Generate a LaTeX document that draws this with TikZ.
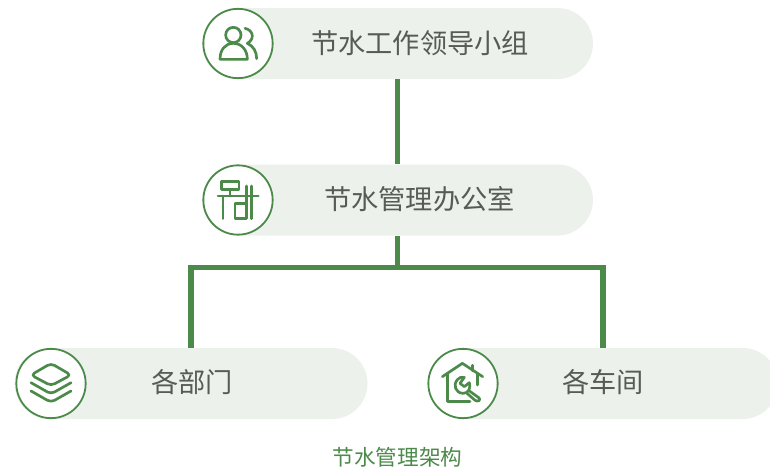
\documentclass[tikz,border=0pt]{standalone}
\usepackage{fontspec}
\setmainfont{Noto Sans CJK SC}
\definecolor{gr}{HTML}{4C8A4A}
\definecolor{pillc}{HTML}{EDF1EC}
\definecolor{txt}{HTML}{565B56}
\tikzset{
  pillbox/.style={fill=pillc,rounded corners=26.6pt,minimum height=53.25pt,inner sep=0pt},
  badge/.style={circle,draw=gr,line width=1.35pt,fill=white,minimum size=52pt,inner sep=0pt},
  nametext/.style={text=txt,font=\fontsize{20.4pt}{22pt}\selectfont,inner sep=0pt},
  captext/.style={text=gr,font=\fontsize{16.2pt}{18pt}\selectfont,inner sep=0pt},
  linkline/.style={draw=gr,line width=4pt},
  ico/.style={draw=gr,line width=2pt,line cap=round,line join=round},
  zoomed/.style={x=0.25pt,y=-0.25pt}
}
\begin{document}
\begin{tikzpicture}[x=0.75pt,y=-0.75pt]
\useasboundingbox (0,0) rectangle (770,471);
\begin{scope}
\clip (0,0) rectangle (770,471);
\node[pillbox,minimum width=293.25pt] (top) at (397.5,43.5) {};
\node[pillbox,minimum width=293.25pt] (mid) at (397.5,200) {};
\node[pillbox,minimum width=264.75pt] (left) at (191,383.5) {};
\node[pillbox,minimum width=262.5pt] (right) at (603,383.5) {};
\end{scope}
\coordinate (bus) at (397.5,267.7);
\draw[linkline] (top.south) -- (mid.north);
\draw[linkline] (mid.south) -- (bus);
\draw[linkline] (left.north) |- (bus) -| (right.north);
\node[badge] (c1) at (238,43.5) {};
\node[badge] (c2) at (238,200) {};
\node[badge] (c3) at (51,383.5) {};
\node[badge] (c4) at (463,383.5) {};
\node[nametext] (t1) at (420,43) {节水工作领导小组};
\node[nametext] (t2) at (419.5,199) {节水管理办公室};
\node[nametext] (t3) at (192,382) {各部门};
\node[nametext] (t4) at (603,382) {各车间};
\node[captext] (caption) at (397.5,457) {节水管理架构};
% people icon
\begin{scope}[shift={(190,0)},zoomed]
\draw[ico] (130,105) circle[radius=23];
\draw[ico] (90,178) -- (172,178) .. controls (172,150) and (155,130) .. (130,130) .. controls (105,130) and (90,150) .. (90,178);
\draw[ico] (165,85) .. controls (190,90) and (195,118) .. (172,130) .. controls (190,138) and (200,155) .. (200,176);
\end{scope}
% desk icon
\begin{scope}[shift={(190,155)},zoomed]
\draw[ico] (94,80) rectangle (147,103);
\draw[ico] (120,103) -- (120,123);
\draw[ico] (84,123) -- (205,123);
\draw[ico] (99,123) -- (99,191);
\draw[ico] (135,146) rectangle (169,190);
\draw[ico] (169,93) -- (169,146);
\draw[ico] (185,93) -- (185,191);
\end{scope}
% layers icon
\begin{scope}[shift={(5,340)},zoomed]
\draw[ico,rounded corners=3pt] (138,70) -- (198,105) -- (138,137) -- (78,105) -- cycle;
\draw[ico,rounded corners=3pt] (78,128) -- (138,162) -- (198,128);
\draw[ico,rounded corners=3pt] (78,153) -- (138,187) -- (198,153);
\end{scope}
% house and wrench icon
\begin{scope}[shift={(415,340)},zoomed]
\draw[ico] (82,110) -- (142,70) -- (203,110);
\draw[ico] (172,76) -- (172,92);
\draw[ico] (97,100) -- (97,185) -- (165,185);
\draw[ico] (188,100) -- (188,135);
\draw[ico] (128,118) .. controls (112,135) and (122,160) .. (145,160) .. controls (160,160) and (168,145) .. (163,128) -- (148,140) -- (135,130) -- (148,112) .. controls (140,110) and (134,112) .. (128,118);
\draw[ico,rounded corners=2pt] (162,152) -- (198,178) -- (186,186) -- (156,160);
\end{scope}
\end{tikzpicture}
\end{document}
